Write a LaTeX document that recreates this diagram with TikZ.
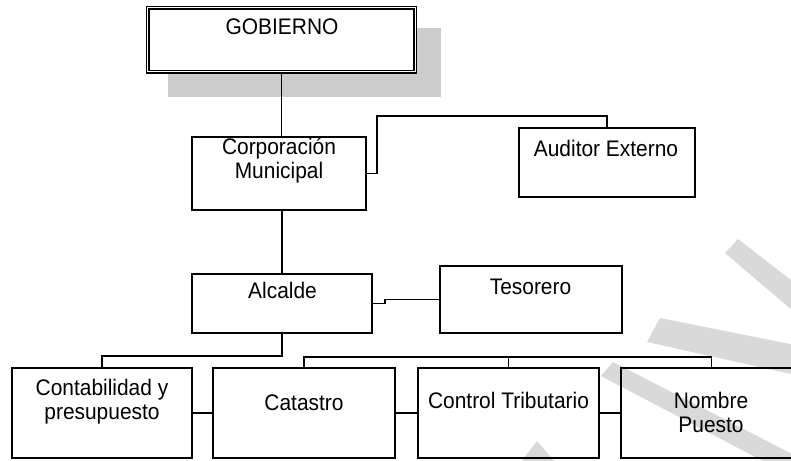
\documentclass[tikz,border=0pt]{standalone}
\usepackage{fontspec}
\setmainfont{Liberation Sans}[FakeStretch=0.93]
\begin{document}
\begin{tikzpicture}[x=1pt,y=-1pt,
  box/.style={draw, line width=1.9pt, inner sep=0pt, rectangle},
  txt/.style={font=\fontsize{22.5}{24}\selectfont, align=center, inner sep=0pt, anchor=north},
  conn/.style={line width=1.9pt},
  stripe/.style={fill=black!15},
  shadowc/.style={fill=black!20}]
\useasboundingbox (0,0) rectangle (791,460);
\clip (0,0) rectangle (791,460);
% watermark stripes
\fill[stripe] (725,253) -- (738,239) -- (800,287) -- (800,317) -- cycle;
\fill[stripe] (647,342) -- (660,318) -- (800,346) -- (800,376) -- cycle;
\fill[stripe] (601,376) -- (613,362) -- (800,458) -- (780,470) -- cycle;
\fill[stripe] (521,462) -- (537,441) -- (555,462) -- cycle;
% shadow of GOBIERNO
\fill[shadowc] (168,28) rectangle (441,97);
% boxes
\node[box, fill=white, line width=1.3pt, double, double distance=1.2pt,
      minimum width=267.5pt, minimum height=64pt] (gob) at (281.5,39.8) {};
\node[box, minimum width=174pt, minimum height=73pt] (corp) at (279,173.5) {};
\node[box, minimum width=176pt, minimum height=69pt] (aud) at (607,162.5) {};
\node[box, minimum width=180pt, minimum height=59pt] (alc) at (282,303.5) {};
\node[box, minimum width=182pt, minimum height=67pt] (tes) at (531,299.5) {};
\node[box, minimum width=180pt, minimum height=90pt] (cont) at (102,413) {};
\node[box, minimum width=182pt, minimum height=90pt] (cat) at (304,413) {};
\node[box, minimum width=181pt, minimum height=90pt] (ctrl) at (508.5,413) {};
\node[box, minimum width=181pt, minimum height=90pt] (nom) at (711.5,413) {};
% texts
\node[txt] (gobT) at (282,18.5) {GOBIERNO};
\node[txt] (corpT) at (279,138) {Corporación\\Municipal};
\node[txt] (audT) at (606,140) {Auditor Externo};
\node[txt] (alcT) at (282.5,281.5) {Alcalde};
\node[txt] (tesT) at (530.5,278.5) {Tesorero};
\node[txt] (contT) at (102,379) {Contabilidad y\\presupuesto};
\node[txt] (catT) at (304,394.5) {Catastro};
\node[txt] (ctrlT) at (508.5,391.5) {Control Tributario};
\node[txt] (nomT) at (711,391.5) {Nombre\\Puesto};
% connector corner points
\coordinate (k1) at (377,116);
\coordinate (k2) at (200,356);
\coordinate (k3) at (500,357);
% connectors
\draw[conn] (gob.south) -- (gob.south |- corp.north);
\draw[conn] (corp.east) -| (k1) -| (aud.north);
\draw[conn] (alc.north |- corp.south) -- (alc.north);
\draw[conn] (alc.east) -- ++(12,0) |- (tes.west);
\draw[conn] (alc.south) |- (k2) -| (cont.north);
\draw[conn] (cat.north) |- (k3) -| (nom.north);
\draw[conn] (ctrl.north) -- (ctrl.north |- k3);
\draw[conn] (cont.east) -- (cat.west);
\draw[conn] (cat.east) -- (ctrl.west);
\draw[conn] (ctrl.east) -- (nom.west);
\end{tikzpicture}
\end{document}
